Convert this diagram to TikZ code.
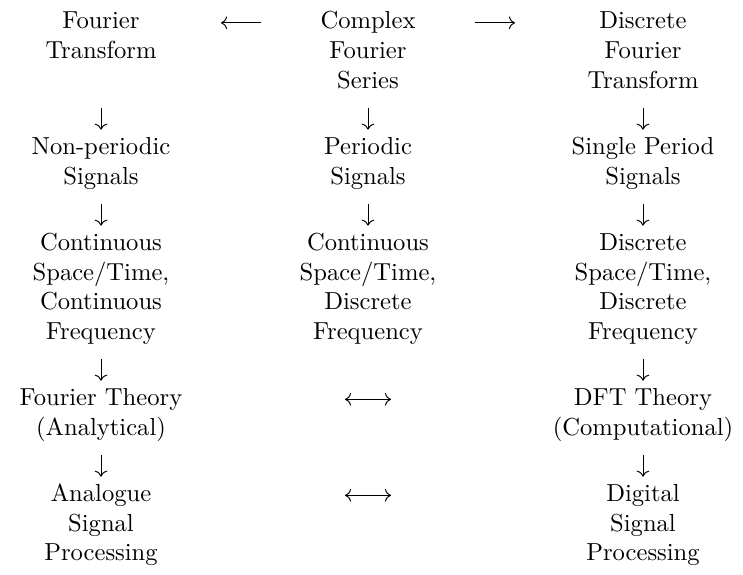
\documentclass[tikz,border=0pt]{standalone}
\usetikzlibrary{arrows.meta}
\newcommand\stk[1]{\begin{tabular}[t]{@{}c@{}}#1\end{tabular}}
\begin{document}
\begin{tikzpicture}[x=0.4065pt,y=-0.4065pt,
  lbl/.style={anchor=base,inner sep=0pt},
  varr/.style={line width=0.4pt,-{Computer Modern Rightarrow}},
  darr/.style={line width=0.4pt,{Computer Modern Rightarrow}-{Computer Modern Rightarrow}}]
\useasboundingbox (0,0) rectangle (743,575);
% row 1
\node[lbl] (ft)  at (101,29) {\stk{Fourier\\Transform}};
\node[lbl] (cfs) at (368,29) {\stk{Complex\\Fourier\\Series}};
\node[lbl] (dft) at (643,29) {\stk{Discrete\\Fourier\\Transform}};
% row 2
\node[lbl] (np)  at (101,154.5) {\stk{Non-periodic\\Signals}};
\node[lbl] (ps)  at (368,154.5) {\stk{Periodic\\Signals}};
\node[lbl] (sps) at (643,154.5) {\stk{Single Period\\Signals}};
% row 3
\node[lbl] (cc)  at (101,250.5) {\stk{Continuous\\Space/Time,\\Continuous\\Frequency}};
\node[lbl] (cd)  at (368,250.5) {\stk{Continuous\\Space/Time,\\Discrete\\Frequency}};
\node[lbl] (dd)  at (643,250.5) {\stk{Discrete\\Space/Time,\\Discrete\\Frequency}};
% row 4
\node[lbl] (fth) at (101,405.5) {\stk{Fourier Theory\\(Analytical)}};
\node[lbl] (dth) at (643,405.5) {\stk{DFT Theory\\(Computational)}};
% row 5
\node[lbl] (asp) at (101,501.5) {\stk{Analogue\\Signal\\Processing}};
\node[lbl] (dsp) at (643,501.5) {\stk{Digital\\Signal\\Processing}};
% horizontal arrows
\draw[varr] ([shift={(-107,-6.15)}]cfs.base) -- ([shift={(-147,-6.15)}]cfs.base);
\draw[varr] ([shift={(107,-6.15)}]cfs.base) -- ([shift={(147,-6.15)}]cfs.base);
\draw[darr] ([shift={(-298,-6.15)}]dth.base) -- ([shift={(-252,-6.15)}]dth.base);
\draw[darr] ([shift={(-298,-6.15)}]dsp.base) -- ([shift={(-252,-6.15)}]dsp.base);
% vertical arrows
\foreach \n in {np,ps,sps,cc,cd,dd,fth,dth,asp,dsp}
  \draw[varr] ([yshift=18.94pt]\n.base) -- ([yshift=10.06pt]\n.base);
\end{tikzpicture}
\end{document}
